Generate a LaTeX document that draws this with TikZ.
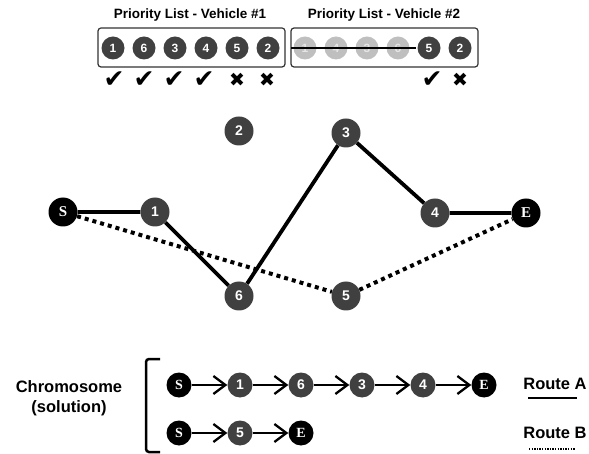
\documentclass[tikz,border=0pt]{standalone}
\usepackage{fontspec}
\setmainfont{Liberation Sans}
\newfontfamily\depotfont{Liberation Serif}
\newfontfamily\symbfont{DejaVu Sans}
\usetikzlibrary{arrows.meta}

\begin{document}
\begin{tikzpicture}[x=1pt,y=-1pt,
	city/.style={circle,fill=black!75,inner sep=0pt,minimum size=29pt,text=white,font=\bfseries\fontsize{14}{14}\selectfont},
	depot/.style={circle,fill=black,inner sep=0pt,minimum size=29pt,text=white,font=\depotfont\bfseries\fontsize{15}{15}\selectfont},
	prio/.style={circle,fill=black!75,inner sep=0pt,minimum size=23pt,text=white,font=\bfseries\fontsize{12}{12}\selectfont},
	done/.style={prio,fill=black!25,text=black!10},
	gene/.style={city,minimum size=25pt},
	genedepot/.style={depot,minimum size=25pt,font=\depotfont\bfseries\fontsize{14}{14}\selectfont},
	okmark/.style={font=\symbfont\fontsize{25}{25}\selectfont},
	nomark/.style={font=\symbfont\fontsize{19}{19}\selectfont},
	routeA/.style={line width=3.8pt},
	routeB/.style={line width=4pt,dash pattern=on 4pt off 4pt},
	chain/.style={line width=2.3pt,-{Straight Barb[length=12pt,width=18pt]}},
	title/.style={font=\bfseries\fontsize{13.5}{13.5}\selectfont},
	legend/.style={font=\bfseries\fontsize{16.5}{16.5}\selectfont}
]
	\useasboundingbox (0,0) rectangle (589,454);

	% priority lists
	\node[title] (T1) at (190,15) {Priority List - Vehicle \#1};
	\node[title] (T2) at (384,15) {Priority List - Vehicle \#2};
	\draw[rounded corners=3pt,line width=1.2pt,draw=black!80] (98,28) rectangle (285,67);
	\draw[rounded corners=3pt,line width=1.2pt,draw=black!80] (291,28) rectangle (478,67);

	\foreach \c [count=\i] in {1,6,3,4,5,2} {
		\pgfmathtruncatemacro{\x}{113+(\i-1)*31}
		\node[prio] (A\i) at (\x,48) {\c};
	}
	\foreach \c [count=\i] in {1,4,3,6} {
		\pgfmathtruncatemacro{\x}{305+(\i-1)*31}
		\node[done] (B\i) at (\x,48) {\c};
	}
	\node[prio] (B5) at (429,48) {5};
	\node[prio] (B6) at (460,48) {2};
	\draw[line width=1.2pt] ([xshift=-2pt]B1.west) -- ([xshift=6pt]B4.east);

	\foreach \i in {1,...,4} {
		\pgfmathtruncatemacro{\x}{114+(\i-1)*30}
		\node[okmark] (K\i) at (\x,80) {✔};
	}
	\node[nomark] (K5) at (237,80) {✖};
	\node[nomark] (K6) at (267,80) {✖};
	\node[okmark] (K7) at (432,80) {✔};
	\node[nomark] (K8) at (460,80) {✖};

	% routes
	\node[depot] (NS) at (63,212) {S};
	\node[depot] (NE) at (526,213) {E};
	\node[city] (N1) at (155,212) {1};
	\node[city] (N2) at (239,131) {2};
	\node[city] (N3) at (346,133) {3};
	\node[city] (N4) at (435,213) {4};
	\node[city] (N5) at (346,296) {5};
	\node[city] (N6) at (239,296) {6};

	\draw[routeB] (NS) -- (N5) -- (NE);
	\draw[routeA] (NS) -- (N1) -- (N6) -- (N3) -- (N4) -- (NE);

	% chromosome
	\node[font=\bfseries\fontsize{16.5}{20}\selectfont,align=center] (CH) at (69,398) {Chromosome\\(solution)};
	\draw[line width=2.5pt,rounded corners=3pt] (160,359) -- (146,359) -- (146,452) -- (160,452);

	\node[genedepot] (R1) at (179,385) {S};
	\foreach \c [count=\i from 2] in {1,6,3,4} {
		\pgfmathtruncatemacro{\x}{179+(\i-1)*61}
		\node[gene] (R\i) at (\x,385) {\c};
	}
	\node[genedepot] (R6) at (484,385) {E};
	\foreach \i in {1,...,5} {
		\pgfmathtruncatemacro{\j}{\i+1}
		\draw[chain] (R\i) -- (R\j);
	}

	\node[genedepot] (Q1) at (179,433) {S};
	\node[gene] (Q2) at (240,433) {5};
	\node[genedepot] (Q3) at (301,433) {E};
	\draw[chain] (Q1) -- (Q2);
	\draw[chain] (Q2) -- (Q3);

	% legend
	\node[legend] (LA) at (555,384) {Route A};
	\node[legend] (LB) at (555,433) {Route B};
	\draw[line width=1.3pt] (528,398) -- (577,398);
	\draw[line width=1.3pt,dash pattern=on 1.3pt off 1.3pt] (529,449) -- (575,449);
\end{tikzpicture}
\end{document}
